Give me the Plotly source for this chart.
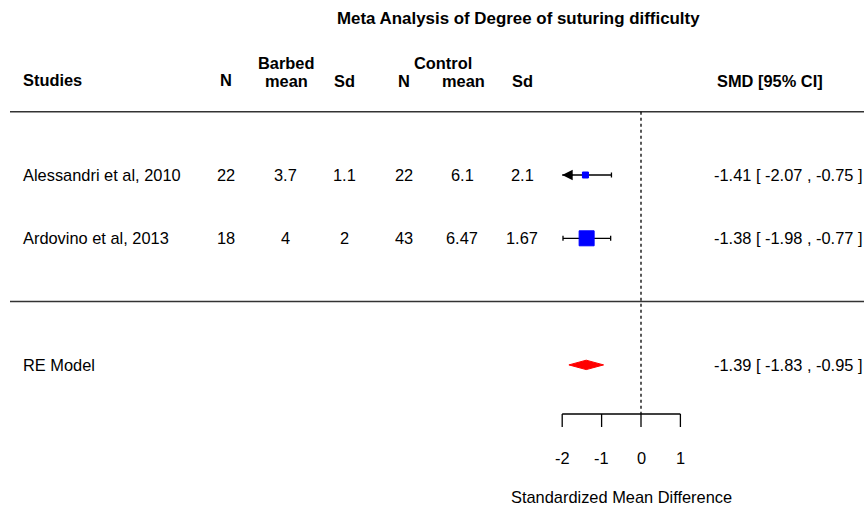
import plotly.graph_objects as go

# ---------------- data ----------------
studies = ["Alessandri et al, 2010", "Ardovino et al, 2013"]
barbed_n = [22, 18]
barbed_mean = [3.7, 4]
barbed_sd = [1.1, 2]
control_n = [22, 43]
control_mean = [6.1, 6.47]
control_sd = [2.1, 1.67]
smd = [-1.41, -1.38]
ci_lo = [-2.07, -1.98]
ci_hi = [-0.75, -0.77]
re_label = "RE Model"
re_est = -1.39
re_lo = -1.83
re_hi = -0.95
axis_ticks = [-2, -1, 0, 1]
title = "Meta Analysis of Degree of suturing difficulty"
xlabel = "Standardized Mean Difference"

# ---------------- layout / style ----------------
W, H = 864, 509
ZERO_PX, UNIT_PX = 641.0, 39.4          # pixel of x=0, pixels per unit
ROW0_PX, ROW_PX = 175.0, 63.3            # pixel of row 2, pixels per row
study_rows = [2, 1]
re_row = -1
marker_sizes = [6, 15]
FONT = "Liberation Sans, Arial, sans-serif"
FS = 16.4
xlo, xhi = min(axis_ticks), max(axis_ticks)


def px2row(py):
    return 2 - (py - ROW0_PX) / ROW_PX


def pxx(px):
    return px / W


x_range = [-ZERO_PX / UNIT_PX, (W - ZERO_PX) / UNIT_PX]
y_range = [px2row(H), px2row(0)]

fig = go.Figure()
ann = []


def txt(x, y, s, bold=False, anchor="center", xref="paper", size=FS):
    ann.append(dict(x=x, y=y, xref=xref, yref="y", text=f"<b>{s}</b>" if bold else s,
                    showarrow=False, xanchor=anchor, yanchor="middle", borderpad=0,
                    font=dict(family=FONT, size=size, color="black")))


LEFT = 21.5
RIGHT = 863.5

# title & headers
txt(pxx(518), px2row(18), title, bold=True, size=16.9)
txt(pxx(LEFT), px2row(80), "Studies", bold=True, anchor="left")
txt(pxx(226), px2row(80), "N", bold=True)
txt(pxx(286), px2row(63), "Barbed", bold=True)
txt(pxx(286), px2row(80.5), "mean", bold=True)
txt(pxx(344), px2row(80.5), "Sd", bold=True)
txt(pxx(404), px2row(80.5), "N", bold=True)
txt(pxx(443), px2row(63), "Control", bold=True)
txt(pxx(463), px2row(80.5), "mean", bold=True)
txt(pxx(522), px2row(80.5), "Sd", bold=True)
txt(pxx(770), px2row(80.5), "SMD [95% CI]", bold=True)

# study rows
col_px = [226, 285, 344, 404, 462, 522]
for i, name in enumerate(studies):
    r = study_rows[i]
    txt(pxx(LEFT), r, name, anchor="left")
    vals = [barbed_n[i], barbed_mean[i], barbed_sd[i], control_n[i], control_mean[i], control_sd[i]]
    for cx, v in zip(col_px, vals):
        txt(pxx(cx), r, f"{v:g}")
    txt(pxx(RIGHT), r, f"{smd[i]:.2f} [ {ci_lo[i]:.2f} , {ci_hi[i]:.2f} ]", anchor="right")

txt(pxx(LEFT), re_row, re_label, anchor="left")
txt(pxx(RIGHT), re_row, f"{re_est:.2f} [ {re_lo:.2f} , {re_hi:.2f} ]", anchor="right")

# CI lines, caps, arrows
cap = 2.5 / ROW_PX
lx, ly = [], []
for i in range(len(studies)):
    r = study_rows[i]
    a, b = max(ci_lo[i], xlo), min(ci_hi[i], xhi)
    lx += [a, b, None]
    ly += [r, r, None]
    if ci_lo[i] >= xlo:
        lx += [a, a, None]
        ly += [r - cap, r + cap, None]
    else:
        ann.append(dict(x=xlo, y=r, xref="x", yref="y", text="", showarrow=True,
                        ax=12, ay=0, arrowhead=2, arrowsize=1.5, arrowwidth=1.4,
                        arrowcolor="black", standoff=0))
    if ci_hi[i] <= xhi:
        lx += [b, b, None]
        ly += [r - cap, r + cap, None]
fig.add_trace(go.Scatter(x=lx, y=ly, mode="lines", line=dict(color="black", width=1.3),
                         hoverinfo="skip", showlegend=False))

fig.add_trace(go.Scatter(x=smd, y=study_rows, mode="markers",
                         marker=dict(symbol="square", size=marker_sizes, color="#0000ff",
                                     opacity=1, line=dict(width=1, color="#0000ff")),
                         showlegend=False))

# RE diamond
dh = 4.7 / ROW_PX
fig.add_trace(go.Scatter(x=[re_lo, re_est, re_hi, re_est, re_lo],
                         y=[re_row, re_row + dh, re_row, re_row - dh, re_row],
                         mode="lines", fill="toself", fillcolor="#ff0000",
                         line=dict(color="#ff0000", width=1), showlegend=False))

shapes = []
# horizontal separators
for rr in [3, 0]:
    shapes.append(dict(type="line", xref="paper", yref="y", x0=pxx(10), x1=1, y0=rr, y1=rr,
                       line=dict(color="#333333", width=1.5)))
# axis
axis_row = px2row(414)
tick_end = px2row(427)
shapes.append(dict(type="line", xref="x", yref="y", x0=0, x1=0, y0=3, y1=axis_row,
                   line=dict(color="black", width=1.3, dash="dot")))
shapes.append(dict(type="line", xref="x", yref="y", x0=xlo, x1=xhi, y0=axis_row, y1=axis_row,
                   line=dict(color="black", width=1.3)))
for t in axis_ticks:
    shapes.append(dict(type="line", xref="x", yref="y", x0=t, x1=t, y0=axis_row, y1=tick_end,
                       line=dict(color="black", width=1.3)))
    txt(t, px2row(458), f"{t:g}", xref="x")
txt((xlo + xhi) / 2, px2row(497), xlabel, xref="x")

fig.update_layout(width=W, height=H, margin=dict(l=0, r=0, t=0, b=0),
                  paper_bgcolor="white", plot_bgcolor="white",
                  xaxis=dict(range=x_range, visible=False, fixedrange=True),
                  yaxis=dict(range=y_range, visible=False, fixedrange=True),
                  shapes=shapes, annotations=ann, showlegend=False)
fig.write_html("out.html")
